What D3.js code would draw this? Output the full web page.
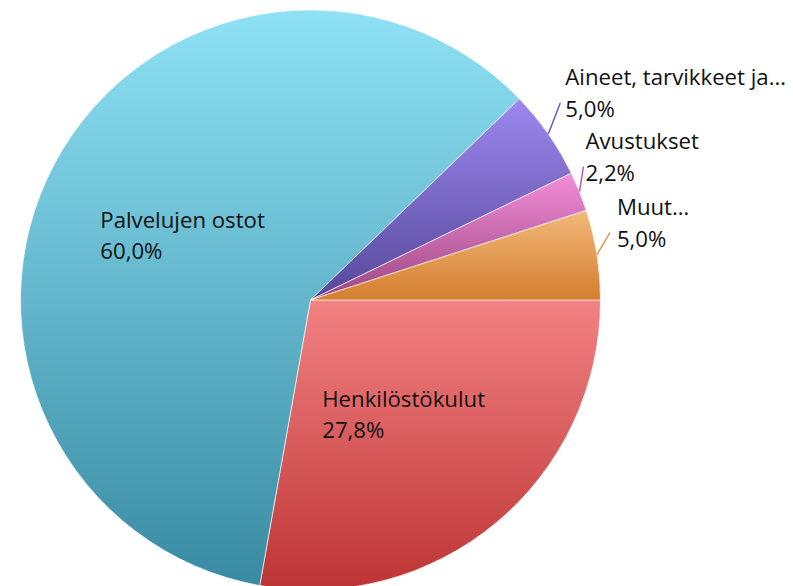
<!DOCTYPE html>
<html><head><meta charset="utf-8">
<script src="https://cdn.jsdelivr.net/npm/d3@7"></script>
<style>html,body{margin:0;padding:0;background:#fff;}svg{display:block;}</style>
</head><body>
<script>
const categories = ["Henkilöstökulut", "Palvelujen ostot", "Aineet, tarvikkeet ja…", "Avustukset", "Muut…"];
const values = [27.8, 60.0, 5.0, 2.2, 5.0];
const valueLabels = ["27,8%", "60,0%", "5,0%", "2,2%", "5,0%"];
const topColors = ["#f38283", "#8fe1f5", "#9c88ef", "#f38cd8", "#f3b97a"];
const bottomColors = ["#bd3434", "#388ba2", "#56479a", "#9a4781", "#d47e2f"];
const lineColors = ["#c04040", "#3a8ea6", "#6a5ac4", "#c85aa8", "#e29a52"];

const W = 793, H = 586, cx = 310.5, cy = 300, R = 290;
const font = "'Open Sans', sans-serif", fs = 22.2;
// outside-label leader offsets (layout only)
const nudges = {2: [12, -31], 3: [4, -25], 4: [13, -22]};
const textGap = {2: 5, 3: 2, 4: 7};

const svg = d3.select("body").append("svg").attr("width", W).attr("height", H);
const defs = svg.append("defs");
categories.forEach((c, i) => {
  const g = defs.append("linearGradient").attr("id", "g" + i)
    .attr("x1", 0).attr("y1", 0).attr("x2", 0).attr("y2", 1);
  g.append("stop").attr("offset", 0).attr("stop-color", topColors[i]);
  g.append("stop").attr("offset", 1).attr("stop-color", bottomColors[i]);
});

const data = categories.map((c, i) => ({cat: c, value: values[i], label: valueLabels[i], i}));
const pie = d3.pie().value(d => d.value).sort(null).startAngle(Math.PI / 2).endAngle(Math.PI / 2 + 2 * Math.PI);
const arcs = pie(data);
const arc = d3.arc().innerRadius(0).outerRadius(R);
const g = svg.append("g").attr("transform", `translate(${cx},${cy})`);

g.selectAll("path.slice").data(arcs).join("path").attr("class", "slice")
  .attr("d", arc).attr("fill", d => `url(#g${d.data.i})`)
  .attr("stroke", "#ffffff").attr("stroke-width", 0.8).attr("stroke-opacity", 0.8);

const inner = d3.arc().innerRadius(R * 0.5).outerRadius(R * 0.5);
const outer = d3.arc().innerRadius(R).outerRadius(R);

arcs.forEach(d => {
  const share = d.value / d3.sum(values);
  if (share > 0.1) {
    const [x, y] = inner.centroid(d);
    const t = g.append("text").attr("font-family", font).attr("font-size", fs).attr("fill", "#111");
    const l1 = t.append("tspan").text(d.data.cat);
    const l2 = t.append("tspan").text(d.data.label);
    const w = Math.max(l1.node().getComputedTextLength(), l2.node().getComputedTextLength());
    l1.attr("x", x - w / 2).attr("y", y - 4);
    l2.attr("x", x - w / 2).attr("y", y + 27);
  } else {
    const [sx, sy] = outer.centroid(d);
    const [dx, dy] = nudges[d.data.i];
    const ex = sx + dx, ey = sy + dy;
    g.append("line").attr("x1", sx).attr("y1", sy).attr("x2", ex).attr("y2", ey)
      .attr("stroke", lineColors[d.data.i]).attr("stroke-width", 1.5);
    const t = g.append("text").attr("font-family", font).attr("font-size", fs).attr("fill", "#111");
    const tx = ex + textGap[d.data.i];
    t.append("tspan").attr("x", tx).attr("y", ey - 18).text(d.data.cat);
    t.append("tspan").attr("x", tx).attr("y", ey + 14).text(d.data.label);
  }
});
</script>
</body></html>
